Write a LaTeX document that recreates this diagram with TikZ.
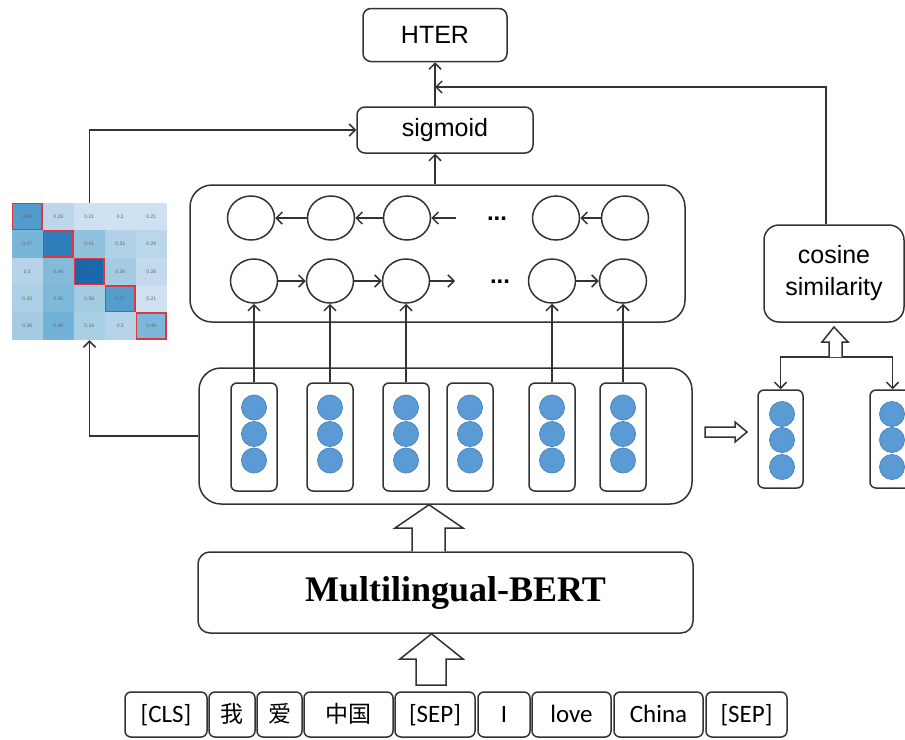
\documentclass[tikz,border=0pt]{standalone}
\usepackage{fontspec}
\setmainfont{Liberation Sans}
\newfontfamily\tokfont{Carlito}
\newfontfamily\cjkfont{Noto Sans CJK SC}
\newfontfamily\bertfont{Liberation Serif}
\usetikzlibrary{arrows.meta,shapes.geometric,calc}

\definecolor{ln}{HTML}{333333}
\definecolor{dotblue}{HTML}{5B9BD5}
\definecolor{dotedge}{HTML}{4A86BE}
\definecolor{hired}{HTML}{E0363C}
% Blues colour scale, nine stops from 0 to 1
\definecolor{bl0}{RGB}{247,251,255}
\definecolor{bl1}{RGB}{222,235,247}
\definecolor{bl2}{RGB}{198,219,239}
\definecolor{bl3}{RGB}{158,202,225}
\definecolor{bl4}{RGB}{107,174,214}
\definecolor{bl5}{RGB}{66,146,198}
\definecolor{bl6}{RGB}{33,113,181}
\definecolor{bl7}{RGB}{8,81,156}
\definecolor{bl8}{RGB}{8,48,107}

\begin{document}
\begin{tikzpicture}[x=1pt,y=-1pt,
  box/.style={draw=ln, line width=1.5pt, rounded corners=8pt, fill=white,
    inner sep=0pt, font=\fontsize{25}{32}\selectfont},
  arr/.style={draw=ln, line width=1.5pt,
    -{Straight Barb[length=6pt,width=12pt,line width=1.5pt]}},
  hollow/.style={draw=ln, line width=1.5pt, fill=white, line join=miter},
  lstm/.style={ellipse, draw=ln, line width=1.5pt, fill=white,
    minimum width=47pt, minimum height=44pt, inner sep=0pt},
  col/.style={draw=ln, line width=1.5pt, rounded corners=6pt, fill=white,
    minimum width=46pt, minimum height=108pt, inner sep=0pt},
  rcol/.style={col, minimum width=45pt, minimum height=98pt},
  dot/.style={circle, fill=dotblue, draw=dotedge, line width=0.8pt,
    minimum size=25pt, inner sep=0pt},
  tok/.style={box, rounded corners=6pt, minimum height=45pt,
    text height=19pt, text depth=3pt,
    font=\tokfont\fontsize{25}{30}\selectfont},
  cjk/.style={font=\cjkfont\fontsize{23}{28}\selectfont},
  ellip/.style={font=\bfseries\fontsize{24}{26}\selectfont, inner sep=0pt, anchor=base},
  celltext/.style={font=\fontsize{5}{6}\selectfont, text=black!60, inner sep=0pt},
  redframe/.style={draw=hired, line width=1.5pt},
]
\useasboundingbox (0,0) rectangle (905,739);

% ---------- output head ----------
\node[box, minimum width=144pt, minimum height=53pt] (hter) at (435,35) {HTER};
\node[box, minimum width=176pt, minimum height=46pt] (sig) at (445,130) {sigmoid};
\coordinate (join) at (435,87);
\draw[arr] (sig.north -| hter.south) -- (hter.south);

% ---------- Bi-LSTM block ----------
\node[box, rounded corners=22pt, minimum width=495pt, minimum height=137pt] (bil) at (437.5,253.5) {};
\draw[arr] (bil.north -| hter.south) -- (sig.south -| hter.south);

\node[lstm] (t1) at (251,218) {};
\node[lstm] (t2) at (331,218) {};
\node[lstm] (t3) at (407,218) {};
\node[lstm] (t4) at (556,218) {};
\node[lstm] (t5) at (625,218) {};
\coordinate (tin) at (456,218);
\draw[arr] (t2) -- (t1);
\draw[arr] (t3) -- (t2);
\draw[arr] (tin) -- (t3);
\draw[arr] (t5) -- (t4);
\node[ellip] (tdots) at (497,220) {...};

\node[lstm] (b1) at (254,281) {};
\node[lstm] (b2) at (330,281) {};
\node[lstm] (b3) at (406,281) {};
\node[lstm] (b4) at (552,281) {};
\node[lstm] (b5) at (623,281) {};
\coordinate (bout) at (455,281);
\draw[arr] (b1) -- (b2);
\draw[arr] (b2) -- (b3);
\draw[arr] (b3) -- (bout);
\draw[arr] (b4) -- (b5);
\node[ellip] (bdots) at (500,283) {...};

% ---------- token embeddings ----------
\node[box, rounded corners=22pt, minimum width=493pt, minimum height=136pt] (emb) at (445.5,436) {};
\foreach \x [count=\i] in {254,330,406,470,552,623} {
  \node[col] (c\i) at (\x,437) {};
  \foreach \dy [count=\j] in {-29.5,-3,23.5}
    \node[dot] (c\i-\j) at (\x,437+\dy) {};
}
\draw[arr] (c1.north) -- (b1.south);
\draw[arr] (c2.north) -- (b2.south);
\draw[arr] (c3.north) -- (b3.south);
\draw[arr] (c5.north) -- (b4.south);
\draw[arr] (c6.north) -- (b5.south);

% ---------- attention heat map ----------
\node[minimum width=155pt, minimum height=137pt, inner sep=0pt] (hm) at (89.5,271.5) {};
\foreach \rowvals [count=\r from 0] in
  {{0.58,0.28,0.21,0.2,0.21},
   {0.47,0.7,0.41,0.32,0.29},
   {0.3,0.44,0.79,0.36,0.26},
   {0.33,0.45,0.36,0.57,0.21},
   {0.36,0.48,0.34,0.3,0.46}} {
  \foreach \v [count=\c from 0] in \rowvals {
    \pgfmathtruncatemacro\k{floor(\v*8)}
    \pgfmathtruncatemacro\kk{\k+1}
    \pgfmathsetmacro\p{(\v*8-\k)*100}
    \fill[fill=bl\kk!\p!bl\k] ($(hm.north west)+(\c*31,\r*27.4)$) rectangle ++(31,27.4);
    \node[celltext] at ($(hm.north west)+(\c*31+15.5,\r*27.4+13.7)$) {\v};
  }
}
\foreach \i in {0,...,4}
  \draw[redframe] ($(hm.north west)+(\i*31+0.75,\i*27.4+0.75)$) rectangle ++(29.5,25.9);

\draw[arr] (hm.north) |- (sig.west);
\draw[arr] (emb.west) -| (hm.south);

% ---------- cosine similarity branch ----------
\node[box, rounded corners=15pt, minimum width=140pt, minimum height=97pt, align=center] (cos) at (834,273.5) {cosine\\similarity};
\draw[arr] ([xshift=-8pt]cos.north) |- (join);

\draw[hollow] (705,427) -- (735,427) -- (735,422) -- (747,432) -- (735,442) -- (735,437) -- (705,437) -- cycle;

\node[rcol] (rA) at (780.5,439) {};
\node[rcol] (rB) at (892.5,439) {};
\foreach \dy [count=\j] in {-25,1,28} {
  \node[dot] (rA-\j) at (782,439+\dy) {};
  \node[dot] (rB-\j) at (892,439+\dy) {};
}
\coordinate (split) at (835.5,357);
\draw[arr] (split) -| (rA.north);
\draw[arr] (split) -| (rB.north);
\draw[hollow] (829,357) -- (829,342) -- (822,342) -- (834,327) -- (848,342) -- (842,342) -- (842,357);

% ---------- encoder ----------
\node[box, rounded corners=12pt, minimum width=495pt, minimum height=81pt,
  font=\bertfont\bfseries\fontsize{36}{40}\selectfont] (bert) at (445.5,592.5) {\hspace*{20pt}Multilingual-BERT};
\draw[hollow] (bert.north -| 412,0) -- (412,528) -- (395,528) -- (emb.south -| 429,0)
  -- (463,528) -- (445,528) -- (bert.north -| 445,0);
\draw[hollow] (416,685) -- (416,659) -- (400,659) -- (bert.south -| 431.5,0)
  -- (463,659) -- (446,659) -- (446,685) -- cycle;

% ---------- input tokens ----------
\node[tok, minimum width=82pt] (k1) at (166,714.5) {[CLS]};
\node[tok, cjk, minimum width=46pt] (k2) at (232,714.5) {我};
\node[tok, cjk, minimum width=45pt] (k3) at (279.5,714.5) {爱};
\node[tok, cjk, minimum width=89pt] (k4) at (348.5,714.5) {中国};
\node[tok, minimum width=80pt] (k5) at (435,714.5) {[SEP]};
\node[tok, minimum width=52pt] (k6) at (504,714.5) {I};
\node[tok, minimum width=79pt] (k7) at (571.5,714.5) {love};
\node[tok, minimum width=89pt] (k8) at (658.5,714.5) {China};
\node[tok, minimum width=81pt] (k9) at (746.5,714.5) {[SEP]};
\end{tikzpicture}
\end{document}
